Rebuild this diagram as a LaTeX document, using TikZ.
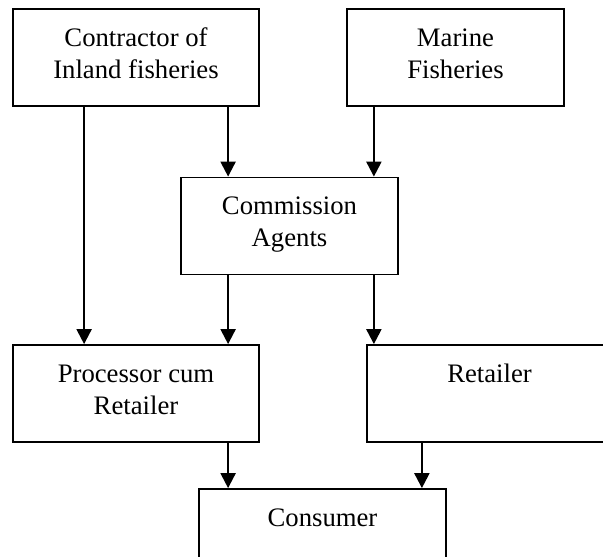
\documentclass[tikz,border=0pt]{standalone}
\usepackage{fontspec}
\setmainfont{Liberation Serif}
\usetikzlibrary{arrows.meta,positioning}

\begin{document}
\begin{tikzpicture}[x=1pt, y=-1pt,
    every node/.style={font=\fontsize{26.7}{32}\selectfont},
    box/.style={draw, line width=1.8pt, inner sep=0pt, minimum height=97pt, align=center},
    onerow/.style={text height=37pt, text depth=60pt},
    tworow/.style={text height=69pt, text depth=28pt},
    arr/.style={line width=2.2pt, -{Triangle[length=15pt,width=15pt]}}]
  \useasboundingbox (0,0) rectangle (603,557);
  \node (cif) [box, tworow, minimum width=246pt] at (136,57.5) {Contractor of\\Inland fisheries};
  \node (mf) [box, tworow, minimum width=217pt] at (455.5,57.5) {Marine\\Fisheries};
  \node (ca) [box, tworow, minimum width=217pt] at (289.5,226) {Commission\\Agents};
  \node (pr) [box, tworow, minimum width=246pt] at (136,393.5) {Processor cum\\Retailer};
  \node (rt) [box, onerow, minimum width=245pt] at (489.5,393.5) {Retailer};
  \node (cs) [box, onerow, minimum width=247pt] at (322.5,537.5) {Consumer};
  \coordinate (ax) at ([xshift=72pt]pr.north west);
  \coordinate (bx) at ([xshift=48pt]ca.north west);
  \coordinate (cx) at ([xshift=-25pt]ca.north east);
  \coordinate (dx) at ([xshift=30pt]cs.north west);
  \coordinate (ex) at ([xshift=-25pt]cs.north east);
  \draw[arr] (cif.south -| ax) -- (ax);
  \draw[arr] (cif.south -| bx) -- (bx);
  \draw[arr] (mf.south -| cx) -- (cx);
  \draw[arr] (ca.south -| bx) -- (pr.north -| bx);
  \draw[arr] (ca.south -| cx) -- (rt.north -| cx);
  \draw[arr] (pr.south -| dx) -- (dx);
  \draw[arr] (rt.south -| ex) -- (ex);
\end{tikzpicture}
\end{document}
